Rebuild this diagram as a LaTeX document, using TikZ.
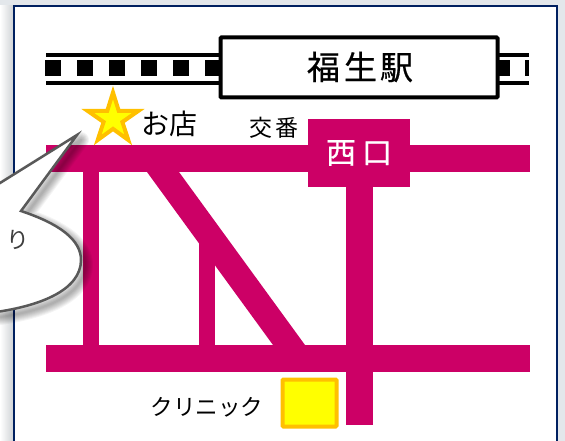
\documentclass[tikz,border=0pt]{standalone}
\usepackage{fontspec}
\newfontfamily\cjk{Noto Sans CJK JP}
\newfontfamily\cjkheavy[FakeBold=0.6]{Noto Sans CJK JP}
\definecolor{road}{HTML}{CC0066}
\definecolor{frameblue}{HTML}{002060}
\definecolor{pagegrey}{HTML}{E3E7EB}
\definecolor{gold}{HTML}{FFC000}
\definecolor{pureyellow}{HTML}{FFFF00}
\definecolor{calloutline}{HTML}{595959}
\tikzset{
  roadfill/.style={fill=road,draw=none},
  trackline/.style={fill=black,draw=none},
  sleeper/.style={fill=black,draw=none},
  marker/.style={fill=pureyellow,draw=gold,line width=4pt,line join=miter,miter limit=10},
  jp/.style={inner sep=0pt,font=\cjk,text=black},
}
\newcommand{\calloutshape}{(-20,195.5) -- (77,135) -- (21,211) .. controls (60,224) and (81,240) .. (81,260) .. controls (81,290) and (40,308) .. (-20,314) -- cycle}
\begin{document}
\begin{tikzpicture}[x=1pt,y=-1pt]
\useasboundingbox (0,0) rectangle (565,441);
\clip (0,0) rectangle (565,441);
% page and frame
\fill[pagegrey] (0,0) rectangle (565,441);
\shade[left color=white,right color=pagegrey!90!black] (0,6) rectangle (14,441);
\fill[white] (14,6) rectangle (557,445);
\draw[frameblue,line width=2pt] (14,448) -- (14,6.5) -- (557,6.5) -- (557,448);
% railway
\fill[trackline] (46,53) rectangle (529,57);
\fill[trackline] (46,81) rectangle (529,85);
\foreach \x in {45,77,109,141,173,205}
  \fill[sleeper] (\x,60) rectangle ++(16,16);
\fill[sleeper] (499,60) rectangle (510,76);
\fill[sleeper] (525,60) rectangle (529,76);
% roads
\fill[roadfill] (46,145) rectangle (530,172);
\fill[roadfill] (46,345) rectangle (530,372);
\fill[roadfill] (83,172) rectangle (99,345);
\fill[roadfill] (199,235) rectangle (215,345);
\fill[roadfill] (346,172) rectangle (373,425);
\fill[roadfill] (147,172) -- (179,172) -- (305,345) -- (273,345) -- cycle;
% station
\node[draw=black,fill=white,line width=4pt,rounded corners=1pt,minimum width=277pt,minimum height=60pt,inner sep=0pt] (station) at (359,67.5) {};
\node[jp,font=\cjkheavy\fontsize{33}{33}\selectfont] (stationlabel) at (360,67) {福\hspace{4pt}生\hspace{3pt}駅};
% west exit
\node[fill=road,minimum width=102pt,minimum height=68pt,inner sep=0pt] (exit) at (359,153) {};
\node[jp,text=white,font=\cjkheavy\fontsize{30}{30}\selectfont] (exitlabel) at (359,153) {西\hspace{6pt}口};
% star
\path[marker] (113,92.5) -- (118.8,111) -- (138.2,111) -- (122.4,122) -- (128.3,140) -- (113,128.9) -- (97.7,140) -- (103.6,122) -- (87.8,111) -- (107.2,111) -- cycle;
\node[jp,font=\cjk\fontsize{28}{28}\selectfont] (shop) at (169,124) {お店};
\node[jp,font=\cjk\fontsize{23}{23}\selectfont] (koban) at (274,128) {交\hspace{3pt}番};
% clinic
\node[fill=pureyellow,draw=gold,line width=4pt,rounded corners=1pt,minimum width=54pt,minimum height=47pt,inner sep=0pt] (clinic) at (309.5,403) {};
\node[jp,font=\cjk\fontsize{22.5}{22.5}\selectfont] (cliniclabel) at (207,407) {クリニック};
% callout shadow
\foreach \w in {16,14,12,10,8,6,4,2}
  \draw[black,opacity=0.045,line width=\w pt,line join=round,shift={(4,5)}] \calloutshape;
\draw[fill=white,draw=calloutline,line width=2.5pt,line join=miter] \calloutshape;
\node[jp,text=calloutline!70!black,font=\cjk\fontsize{23}{23}\selectfont] (calloutlabel) at (18,240) {り};
\end{tikzpicture}
\end{document}
